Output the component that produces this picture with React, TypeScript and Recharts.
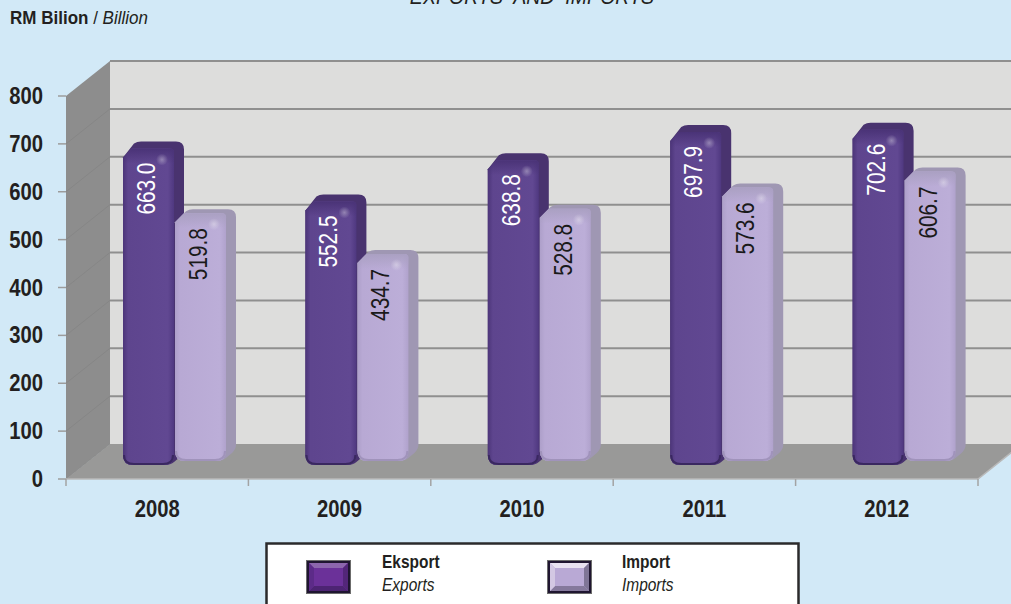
import { BarChart, Bar, XAxis, YAxis, LabelList } from 'recharts';

const years = ['2008', '2009', '2010', '2011', '2012'];
const exportsRm = [663.0, 552.5, 638.8, 697.9, 702.6];
const importsRm = [519.8, 434.7, 528.8, 573.6, 606.7];
const yTicks = [0, 100, 200, 300, 400, 500, 600, 700, 800];

const rows = years.map((year, i) => ({ year, exports: exportsRm[i], imports: importsRm[i] }));

const FONT = '"Liberation Sans", Arial, sans-serif';
const INK = '#231f20';
const WIDTH = 1011;
const HEIGHT = 604;
const PLOT = { left: 66, right: 978, top: 96, bottom: 479 };
const DEPTH_X = 44;
const DEPTH_Y = 35;

// No condensed face is available, so text is squeezed horizontally
const Squeezed = ({ x, y, size, scale = 0.88, anchor = 'start', rotate = 0, fill = INK, weight, italic, children }: any) => (
	<text
		transform={`translate(${x},${y}) rotate(${rotate}) scale(${scale},1)`}
		textAnchor={anchor}
		fontFamily={FONT}
		fontSize={size}
		fontWeight={weight}
		fontStyle={italic ? 'italic' : undefined}
		fill={fill}
		xmlSpace='preserve'
	>
		{children}
	</text>
);

// Back wall, side wall and floor of the box behind the bars
const ChartBox = () => {
	const { left, right, top, bottom } = PLOT;
	const h = bottom - top;
	const band = (right - left) / years.length;
	return (
		<g>
			<rect x={left + DEPTH_X} y={top - DEPTH_Y} width={WIDTH - left - DEPTH_X} height={h} fill='#dddddc' />
			<polygon
				points={`${left},${top} ${left + DEPTH_X},${top - DEPTH_Y} ${left + DEPTH_X},${bottom - DEPTH_Y} ${left},${bottom}`}
				fill='#8d8d8d'
			/>
			{yTicks.map((t) => {
				const y = bottom - (t / 800) * h;
				return (
					<g key={t}>
						{t > 0 && (
							<line
								x1={left + DEPTH_X}
								x2={WIDTH}
								y1={y - DEPTH_Y}
								y2={y - DEPTH_Y}
								stroke='#8f8f8f'
								strokeWidth={2}
							/>
						)}
						{t < 800 && (
							<line x1={left} x2={left + DEPTH_X} y1={y} y2={y - DEPTH_Y} stroke='#868686' />
						)}
					</g>
				);
			})}
			<polygon
				points={`${left},${bottom} ${left + DEPTH_X},${bottom - DEPTH_Y} ${right + DEPTH_X},${bottom - DEPTH_Y} ${right},${bottom}`}
				fill='#999998'
			/>
			<path d={`M${left},${bottom} H${right} L${right + DEPTH_X},${bottom - DEPTH_Y}`} fill='none' stroke='#b9b9b9' strokeWidth={1.5} />
			{years.concat('').map((_, i) => (
				<line
					key={i}
					x1={left + band * i}
					x2={left + band * i}
					y1={bottom}
					y2={bottom + 7}
					stroke='#a3a3a3'
					strokeWidth={1.5}
				/>
			))}
		</g>
	);
};

const Defs = () => (
	<defs>
		<linearGradient id='expFront' x1='0' x2='1' y1='0' y2='0'>
			<stop offset='0' stopColor='#4c3579' />
			<stop offset='0.1' stopColor='#5e458e' />
			<stop offset='0.88' stopColor='#614892' />
			<stop offset='1' stopColor='#4f3880' />
		</linearGradient>
		<linearGradient id='impFront' x1='0' x2='1' y1='0' y2='0'>
			<stop offset='0' stopColor='#ad9fc9' />
			<stop offset='0.1' stopColor='#b8a9d4' />
			<stop offset='0.88' stopColor='#bcaed8' />
			<stop offset='1' stopColor='#b0a2cc' />
		</linearGradient>
		<linearGradient id='expCap' x1='0' x2='0' y1='0' y2='1'>
			<stop offset='0' stopColor='#4a3377' stopOpacity={1} />
			<stop offset='1' stopColor='#4a3377' stopOpacity={0} />
		</linearGradient>
		<linearGradient id='impCap' x1='0' x2='0' y1='0' y2='1'>
			<stop offset='0' stopColor='#aaa0c2' stopOpacity={1} />
			<stop offset='1' stopColor='#aaa0c2' stopOpacity={0} />
		</linearGradient>
		<radialGradient id='glint'>
			<stop offset='0' stopColor='#ffffff' stopOpacity={0.35} />
			<stop offset='1' stopColor='#ffffff' stopOpacity={0} />
		</radialGradient>
	</defs>
);

// Rounded block: the library's rectangle sets the front face, top and side are extruded from it
const makeBlock = (opts: { lift: number; rise: number; front: string; cap: string; side: string; edge: string }) =>
	(props: any) => {
		const { x, y, width, height } = props;
		const dx = 10;
		const s = opts.rise;
		const r = 10;
		const l = x + 18;
		const w = width - 1;
		const t = y - opts.lift;
		const b = t + height;
		const silhouette = `M${l},${b - r} V${t + 10} L${l + 11},${t - s + 2} Q${l + 14},${t - s} ${l + 18},${t - s} H${l + w + dx - 8} Q${l + w + dx},${t - s} ${l + w + dx},${t - s + 8} V${b - 16} Q${l + w + dx},${b - 12} ${l + w + 6},${b - 8} L${l + w},${b - 3} Q${l + w - 3},${b} ${l + w - r},${b} H${l + r} Q${l},${b} ${l},${b - r} Z`;
		const face = `M${l},${t + 10} L${l + 9},${t + 1} H${l + w - 4} Q${l + w},${t + 1} ${l + w},${t + 5} V${b - r} Q${l + w},${b} ${l + w - r},${b} H${l + r} Q${l},${b} ${l},${b - r} Z`;
		const capShape = `M${l},${t + 10} L${l + 9},${t + 1} H${l + w - 4} Q${l + w},${t + 1} ${l + w},${t + 5} V${t + 16} H${l} Z`;
		return (
			<g>
				<path d={silhouette} fill={opts.side} />
				<path d={face} fill={opts.front} />
				<path d={capShape} fill={opts.cap} />
				<path
					d={`M${l + 1},${b - r} Q${l + 1},${b - 1} ${l + r + 1},${b - 1} H${l + w - r - 1} Q${l + w - 1},${b - 1} ${l + w - 1},${b - r}`}
					fill='none'
					stroke={opts.edge}
					strokeWidth={2}
				/>
				<circle cx={l + w - 12} cy={t + 12} r={6} fill='url(#glint)' />
			</g>
		);
	};

const ExportBlock = makeBlock({ lift: 14, rise: 6, front: 'url(#expFront)', cap: 'url(#expCap)', side: '#49336f', edge: '#3a2860' });
const ImportBlock = makeBlock({ lift: 18, rise: 3, front: 'url(#impFront)', cap: 'url(#impCap)', side: '#9f97b3', edge: '#a093bb' });

// Rotated value printed inside the bar, measured down from the front face top
const makeValueLabel = (color: string, lift: number, gap: number) => (props: any) => {
	const { x, y, width, value } = props;
	return (
		<Squeezed
			x={x + 18 + width / 2 + 6}
			y={y - lift + gap}
			size={26}
			scale={0.8}
			anchor='end'
			rotate={-90}
			fill={color}
		>
			{Number(value).toFixed(1)}
		</Squeezed>
	);
};

const YTick = ({ x, y, payload }: any) => (
	<Squeezed x={x} y={y + 8} size={23} anchor='end' weight='bold'>
		{payload.value}
	</Squeezed>
);

const XTick = ({ x, payload }: any) => (
	<Squeezed x={x} y={517} size={23} anchor='middle' weight='bold'>
		{payload.value}
	</Squeezed>
);

const LEGEND_ITEMS = [
	{
		bold: 'Eksport',
		italic: 'Exports',
		swatchX: 41,
		textX: 117,
		bevel: { center: '#6b3199', top: '#8d66ad', bottom: '#4d2473', left: '#5c2b88', right: '#532679' },
	},
	{
		bold: 'Import',
		italic: 'Imports',
		swatchX: 282,
		textX: 357,
		bevel: { center: '#b9a9d5', top: '#e9e2f1', bottom: '#85799c', left: '#d3c8e3', right: '#7f7596' },
	},
];

// Bevelled swatch, 45 x 34, with the frame and four sloped edges around a flat centre
const Swatch = ({ x, bevel }: any) => {
	const y = 18;
	const l = x + 3;
	const r = x + 42;
	const t = y + 3;
	const b = y + 31;
	const e = 5;
	return (
		<g>
			<rect x={x + 0.5} y={y + 0.5} width={44} height={33} fill='#1f1530' stroke='#6b6b6b' />
			<rect x={l} y={t} width={r - l} height={b - t} fill={bevel.center} />
			<polygon points={`${l},${t} ${r},${t} ${r - e},${t + e} ${l + e},${t + e}`} fill={bevel.top} />
			<polygon points={`${l},${b} ${r},${b} ${r - e},${b - e} ${l + e},${b - e}`} fill={bevel.bottom} />
			<polygon points={`${l},${t} ${l + e},${t + e} ${l + e},${b - e} ${l},${b}`} fill={bevel.left} />
			<polygon points={`${r},${t} ${r - e},${t + e} ${r - e},${b - e} ${r},${b}`} fill={bevel.right} />
		</g>
	);
};

const LegendBox = () => (
	<svg width={535} height={62} style={{ position: 'absolute', left: 265, top: 542, display: 'block' }}>
		<rect x={1.5} y={1.5} width={532} height={70} fill='#ffffff' stroke='#2b2a2b' strokeWidth={2.5} />
		{LEGEND_ITEMS.map((item) => (
			<g key={item.bold}>
				<Swatch x={item.swatchX} bevel={item.bevel} />
				<Squeezed x={item.textX} y={26} size={18} scale={0.86} weight='bold'>
					{item.bold}
				</Squeezed>
				<Squeezed x={item.textX} y={49} size={18} scale={0.86} italic>
					{item.italic}
				</Squeezed>
			</g>
		))}
	</svg>
);

const App = () => (
	<div style={{ position: 'absolute', left: 0, top: 0, width: WIDTH, height: HEIGHT, overflow: 'hidden', background: '#d2e9f7' }}>
		<BarChart
			width={WIDTH}
			height={HEIGHT}
			data={rows}
			margin={{ top: PLOT.top, right: WIDTH - PLOT.right, bottom: 0, left: 0 }}
			barSize={52}
			barGap={0}
			barCategoryGap={0}
		>
			<Defs />
			<ChartBox />
			<Squeezed x={532} y={4} size={22} scale={0.89} anchor='middle' italic>
				EXPORTS  AND  IMPORTS
			</Squeezed>
			<text transform='translate(10,24) scale(0.92,1)' fontFamily={FONT} fontSize={18.5} fill={INK}>
				<tspan fontWeight='bold'>RM Bilion</tspan>
				<tspan> / </tspan>
				<tspan fontStyle='italic'>Billion</tspan>
			</text>
			<XAxis dataKey='year' height={HEIGHT - PLOT.bottom} axisLine={false} tickLine={false} tick={<XTick />} />
			<YAxis
				width={PLOT.left}
				domain={[0, 800]}
				ticks={yTicks}
				axisLine={false}
				tickSize={8}
				tickMargin={15}
				tickLine={{ stroke: '#9c9c9c', strokeWidth: 1.5 }}
				tick={<YTick />}
			/>
			<Bar dataKey='exports' name='Eksport' shape={ExportBlock} isAnimationActive={false}>
				<LabelList dataKey='exports' content={makeValueLabel('#ffffff', 14, 15)} />
			</Bar>
			<Bar dataKey='imports' name='Import' shape={ImportBlock} isAnimationActive={false}>
				<LabelList dataKey='imports' content={makeValueLabel('#1a1a1a', 18, 16)} />
			</Bar>
		</BarChart>
		<LegendBox />
	</div>
);

export default App;
